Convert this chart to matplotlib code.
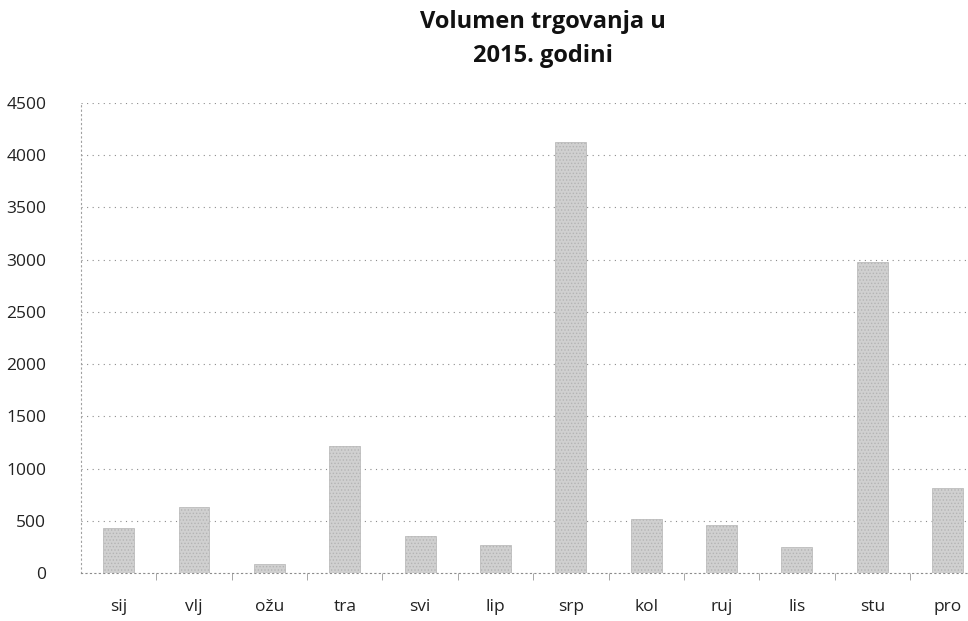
import numpy as np
import matplotlib
matplotlib.use("Agg")
import matplotlib.pyplot as plt

plt.rcParams['font.family'] = ['Open Sans', 'DejaVu Sans']
plt.rcParams['hatch.color'] = '#7a7a7a'
plt.rcParams['hatch.linewidth'] = 0.6

months = ['sij', 'vlj', 'ožu', 'tra', 'svi', 'lip', 'srp', 'kol', 'ruj', 'lis', 'stu', 'pro']
volumen = [434, 630, 89, 1212, 358, 270, 4125, 516, 457, 247, 2980, 812]
yticks = [0, 500, 1000, 1500, 2000, 2500, 3000, 3500, 4000, 4500]

fig = plt.figure(figsize=(9.68, 6.21), dpi=100)
# plot area: x 81..968 px, y 103..573 px (axis runs a bit past the right edge)
ax = fig.add_axes([81 / 968, 48 / 621, 887 / 968, 470 / 621])

x = np.arange(len(months))
ax.bar(x, volumen, width=0.41, color='#d0d0d0', edgecolor='#b4b4b4',
       linewidth=0.5, hatch='.....', zorder=3)

ax.set_ylim(0, 4500)
ax.set_xlim(-0.5, 11.27)
ax.set_yticks(yticks)
ax.set_yticklabels([str(t) for t in yticks], fontsize=12.5, color='#222222')
ax.set_xticks(x)
ax.set_xticklabels(months, fontsize=12.5, color='#222222')
ax.tick_params(axis='both', length=0)
ax.tick_params(axis='y', pad=25)
ax.tick_params(axis='x', pad=19)

# small separators between categories
ax.set_xticks(np.arange(0.5, 11.5, 1), minor=True)
ax.tick_params(axis='x', which='minor', length=5, color='#999999', width=0.6)

ax.yaxis.grid(True, linestyle=(0, (1, 4)), color='#8c8c8c', linewidth=0.8, zorder=0)
for s in ['top', 'right']:
    ax.spines[s].set_visible(False)
ax.spines['left'].set_linestyle((0, (1, 3)))
ax.spines['left'].set_color('#a0a0a0')
ax.spines['left'].set_linewidth(0.8)
ax.spines['bottom'].set_linestyle((0, (1, 3)))
ax.spines['bottom'].set_color('#8c8c8c')
ax.spines['bottom'].set_linewidth(0.8)

fig.text(543 / 968, 1 - 39 / 621, 'Volumen trgovanja u\n2015. godini', ha='center', va='center',
         fontsize=17, fontweight='bold', color='#111111', linespacing=1.5)

fig.savefig('out.png', dpi=100)
